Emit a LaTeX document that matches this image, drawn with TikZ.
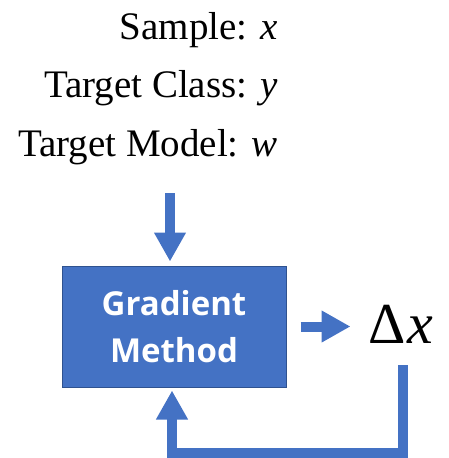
\documentclass[tikz,border=0pt]{standalone}
\usepackage{fontspec}
\setmainfont{Liberation Serif}
\newfontfamily\boxfont{Open Sans}
\usetikzlibrary{arrows.meta}
\definecolor{blu}{HTML}{4472C4}
\definecolor{bord}{HTML}{2F528F}
\begin{document}
\begin{tikzpicture}[x=1pt,y=-1pt,
  lbl/.style={anchor=base east,inner sep=0pt,font=\fontsize{39}{39}\selectfont},
  gmbox/.style={draw=bord,line width=1pt,fill=blu,minimum width=224pt,minimum height=121pt,inner sep=0pt,
    text=white,align=center,font=\boxfont\bfseries\fontsize{33}{47}\selectfont},
  bigarrow/.style={draw=blu,line width=10pt,line join=miter,-{Triangle[width=30pt,length=29pt]}}]
\useasboundingbox (0,0) rectangle (449,458);
\node[lbl] (s1) at (278,39) {Sample: \textit{x}};
\node[lbl] (s2) at (278,97) {Target Class: \textit{y}};
\node[lbl] (s3) at (278,156) {Target Model: \textit{w}};
\node[gmbox] (gm) at (174,326.5) {Gradient\\Method};
\node[anchor=base west,inner sep=0pt,font=\fontsize{58}{58}\selectfont] (dx) at (368,343) {Δ\kern2pt\textit{x}};
\coordinate (in) at (170,193);
\coordinate (fb) at (403,365);
\draw[bigarrow] (in) -- (in |- gm.north) [shorten >=4pt];
\draw[bigarrow,shorten <=14pt] (gm.east) -- ([xshift=64pt]gm.east);
\draw[bigarrow,shorten >=3pt] (fb) -- (403,452.5) -| ([xshift=-2pt]gm.south);
\end{tikzpicture}
\end{document}
